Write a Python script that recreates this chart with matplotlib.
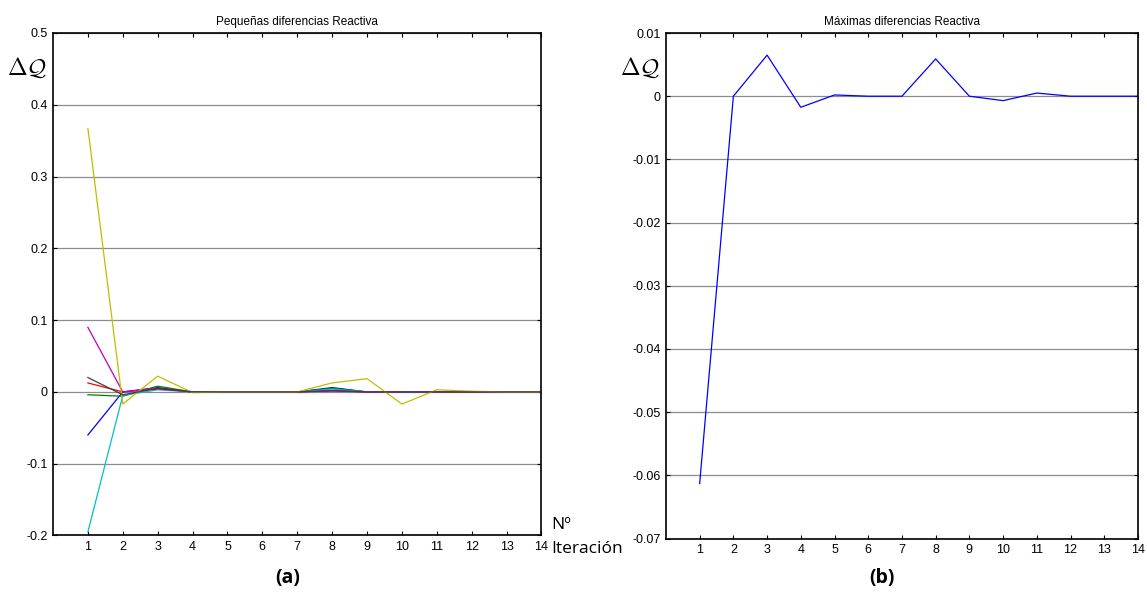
import matplotlib
matplotlib.use('Agg')
from matplotlib import pyplot as plt
import numpy as np

# iteraciones (eje x)
iteraciones = np.arange(1, 15)

# (a) pequeñas diferencias de potencia reactiva, una serie por nodo
serie_b = [-0.060, 0.000, 0.006, 0.000, 0, 0, 0, 0.006, 0.000, 0, 0, 0, 0, 0]
serie_g = [-0.004, -0.006, 0.008, 0.000, 0, 0, 0, 0.005, 0.000, 0, 0, 0, 0, 0]
serie_r = [0.0125, 0.000, 0.005, 0.000, 0, 0, 0, 0.002, 0.000, 0, 0, 0, 0, 0]
serie_c = [-0.195, -0.005, 0.003, 0.000, 0, 0, 0, 0.004, 0.000, 0, 0, 0, 0, 0]
serie_m = [0.090, 0.000, 0.004, 0.000, 0, 0, 0, 0.001, 0.000, 0, 0, 0, 0, 0]
serie_y = [0.367, -0.017, 0.022, -0.001, 0, 0, 0, 0.0125, 0.0185, -0.017, 0.003, 0.001, 0, 0]
serie_k = [0.020, -0.004, 0.005, 0.000, 0, 0, 0, 0.002, 0.000, 0, 0, 0, 0, 0]

# (b) máximas diferencias de potencia reactiva
maximas = [-0.0613, 0.0000, 0.0065, -0.00175, 0.0002, 0.0, 0.0, 0.0059, 0.0,
           -0.0007, 0.0005, 0.0, 0.0, 0.0]

yticks_a = [-0.2, -0.1, 0, 0.1, 0.2, 0.3, 0.4, 0.5]
ylabels_a = ['-0.2', '-0.1', '0', '0.1', '0.2', '0.3', '0.4', '0.5']
yticks_b = [-0.07, -0.06, -0.05, -0.04, -0.03, -0.02, -0.01, 0, 0.01]
ylabels_b = ['-0.07', '-0.06', '-0.05', '-0.04', '-0.03', '-0.02', '-0.01', '0', '0.01']

# colores de matlab
colores = [(0, 0, 1), (0, 0.5, 0), (1, 0, 0), (0, 0.75, 0.75),
           (0.75, 0, 0.75), (0.75, 0.75, 0), (0.25, 0.25, 0.25)]

plt.rcParams['font.family'] = ['Liberation Sans', 'DejaVu Sans']
plt.rcParams['mathtext.fontset'] = 'cm'

fig = plt.figure(figsize=(11.47, 5.94), dpi=100)
ax1 = fig.add_axes([0.0462, 0.0985, 0.4259, 0.8460])
ax2 = fig.add_axes([0.5806, 0.0934, 0.4115, 0.8510])


def estilo(ax, yticks, ylabels, titulo):
    ax.set_xlim(0, 14)
    ax.set_ylim(yticks[0], yticks[-1])
    ax.set_xticks(iteraciones)
    ax.set_xticklabels([str(i) for i in iteraciones], fontsize=9)
    ax.set_yticks(yticks)
    ax.set_yticklabels(ylabels, fontsize=9)
    ax.tick_params(direction='in', top=True, right=True, length=3, width=0.8, pad=4)
    ax.grid(True, axis='y', color='#8c8c8c', linewidth=0.9)
    ax.set_axisbelow(True)
    for s in ax.spines.values():
        s.set_linewidth(1.2)
    ax.set_title(titulo, fontsize=8.5, pad=6)


series = [serie_b, serie_g, serie_r, serie_c, serie_m, serie_y, serie_k]
for datos, col in zip(series, colores):
    ax1.plot(iteraciones, datos, color=col, linewidth=0.9)
estilo(ax1, yticks_a, ylabels_a, 'Pequeñas diferencias Reactiva')

ax2.plot(iteraciones, maximas, color=(0, 0, 1), linewidth=0.9)
estilo(ax2, yticks_b, ylabels_b, 'Máximas diferencias Reactiva')

# etiquetas de los ejes
fig.text(27 / 1147, 1 - 68 / 594, r'$\Delta\mathcal{Q}$', fontsize=17, ha='center', va='center')
fig.text(640 / 1147, 1 - 68 / 594, r'$\Delta\mathcal{Q}$', fontsize=17, ha='center', va='center')
fig.text(551 / 1147, 1 - 525 / 594, 'Nº', fontsize=12.5, family=['Open Sans', 'DejaVu Sans'],
         ha='left', va='center')
fig.text(551 / 1147, 1 - 549 / 594, 'Iteración', fontsize=12.5, family=['Open Sans', 'DejaVu Sans'],
         ha='left', va='center')

fig.text(288 / 1147, 1 - 578 / 594, '(a)', fontsize=14, fontweight='bold',
         family=['Open Sans', 'DejaVu Sans'], ha='center', va='center')
fig.text(882 / 1147, 1 - 578 / 594, '(b)', fontsize=14, fontweight='bold',
         family=['Open Sans', 'DejaVu Sans'], ha='center', va='center')

fig.savefig('out.png', dpi=100)
